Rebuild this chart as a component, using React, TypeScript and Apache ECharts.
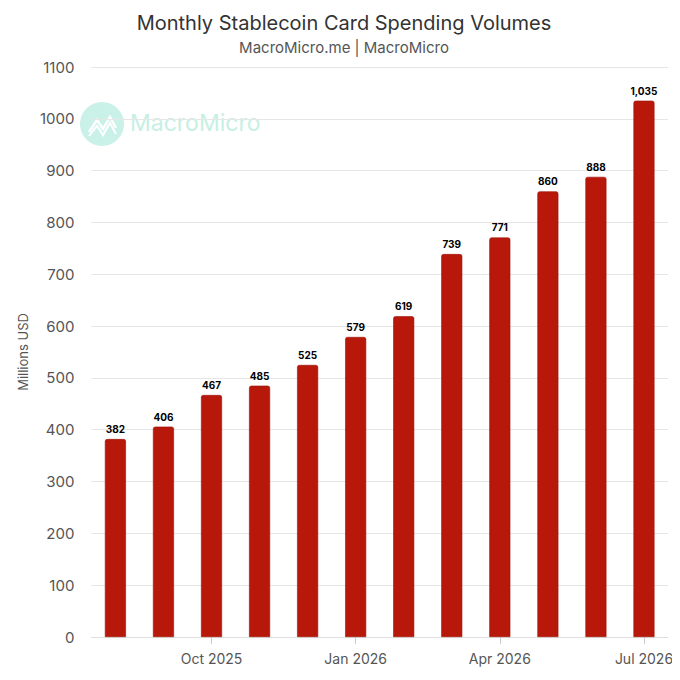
import React, { useEffect, useRef } from "react";
import * as echarts from "echarts";

const categories = [
  "Aug 2025", "Sep 2025", "Oct 2025", "Nov 2025", "Dec 2025", "Jan 2026",
  "Feb 2026", "Mar 2026", "Apr 2026", "May 2026", "Jun 2026", "Jul 2026",
];
const spending = [382, 406, 467, 485, 525, 579, 619, 739, 771, 860, 888, 1035];
const shownLabels = ["Oct 2025", "Jan 2026", "Apr 2026", "Jul 2026"];

const FONT = "Inter, Roboto, 'Noto Sans', sans-serif";

export default function App() {
  const ref = useRef<HTMLDivElement>(null);
  useEffect(() => {
    if (!ref.current) return;
    const chart = echarts.init(ref.current, undefined, { renderer: "svg" });
    const showIdx = (i: number) => shownLabels.includes(categories[i]);
    chart.setOption({
      animation: false,
      backgroundColor: "#ffffff",
      title: {
        text: "Monthly Stablecoin Card Spending Volumes",
        subtext: "MacroMicro.me | MacroMicro",
        left: "center",
        top: 0,
        itemGap: 7,
        textStyle: { fontFamily: FONT, fontSize: 20, fontWeight: "normal", color: "#333333" },
        subtextStyle: { fontFamily: FONT, fontSize: 15, color: "#555555" },
      },
      graphic: [
        {
          type: "group",
          left: 72,
          top: 94,
          silent: true,
          z: 0,
          children: [
            { type: "circle", shape: { cx: 22, cy: 22, r: 22 }, style: { fill: "#c9f1e7" } },
            {
              type: "polyline",
              shape: { points: [[9, 30], [17, 18], [23, 27], [30, 15], [36, 26]] },
              style: { stroke: "#ffffff", lineWidth: 2.5, fill: "none" },
            },
            {
              type: "polyline",
              shape: { points: [[9, 34], [17, 24], [23, 33], [30, 21], [36, 32]] },
              style: { stroke: "#ffffff", lineWidth: 2, fill: "none" },
            },
            {
              type: "text",
              x: 50,
              y: 9,
              style: {
                text: "MacroMicro",
                fontFamily: FONT,
                fontSize: 23,
                fill: "#c6efe4",
              },
            },
          ],
        },
      ],
      grid: { left: 77, right: 12, top: 59, bottom: 43, containLabel: false },
      xAxis: {
        type: "category",
        data: categories,
        boundaryGap: true,
        axisLine: { lineStyle: { color: "#dddddd" } },
        axisTick: {
          show: true,
          alignWithLabel: true,
          length: 7,
          interval: (i: number) => showIdx(i),
          lineStyle: { color: "#cccccc" },
        },
        axisLabel: {
          interval: (i: number) => showIdx(i),
          fontFamily: FONT,
          fontSize: 14,
          color: "#555555",
          margin: 14,
        },
      },
      yAxis: {
        type: "value",
        min: 0,
        max: 1100,
        interval: 100,
        name: "Millions USD",
        nameLocation: "middle",
        nameGap: 54,
        nameTextStyle: { fontFamily: FONT, fontSize: 13, color: "#555555" },
        axisLine: { show: false },
        axisTick: { show: false },
        axisLabel: {
          fontFamily: FONT,
          fontSize: 15,
          color: "#555555",
          margin: 17,
          formatter: (v: number) => String(v),
        },
        splitLine: { lineStyle: { color: "#e6e6e6" } },
      },
      series: [
        {
          type: "bar",
          data: spending,
          barWidth: 21,
          itemStyle: {
            color: "#b8180a",
            borderColor: "#9a1006",
            borderWidth: 0.6,
            borderRadius: [2, 2, 0, 0],
          },
          label: {
            show: true,
            position: "top",
            distance: 5,
            fontFamily: FONT,
            fontSize: 10,
            fontWeight: "bold",
            color: "#000000",
            formatter: (p: any) => Number(p.value).toLocaleString("en-US"),
          },
        },
      ],
    });
    return () => chart.dispose();
  }, []);
  return <div ref={ref} style={{ width: 672, height: 672 }} />;
}
